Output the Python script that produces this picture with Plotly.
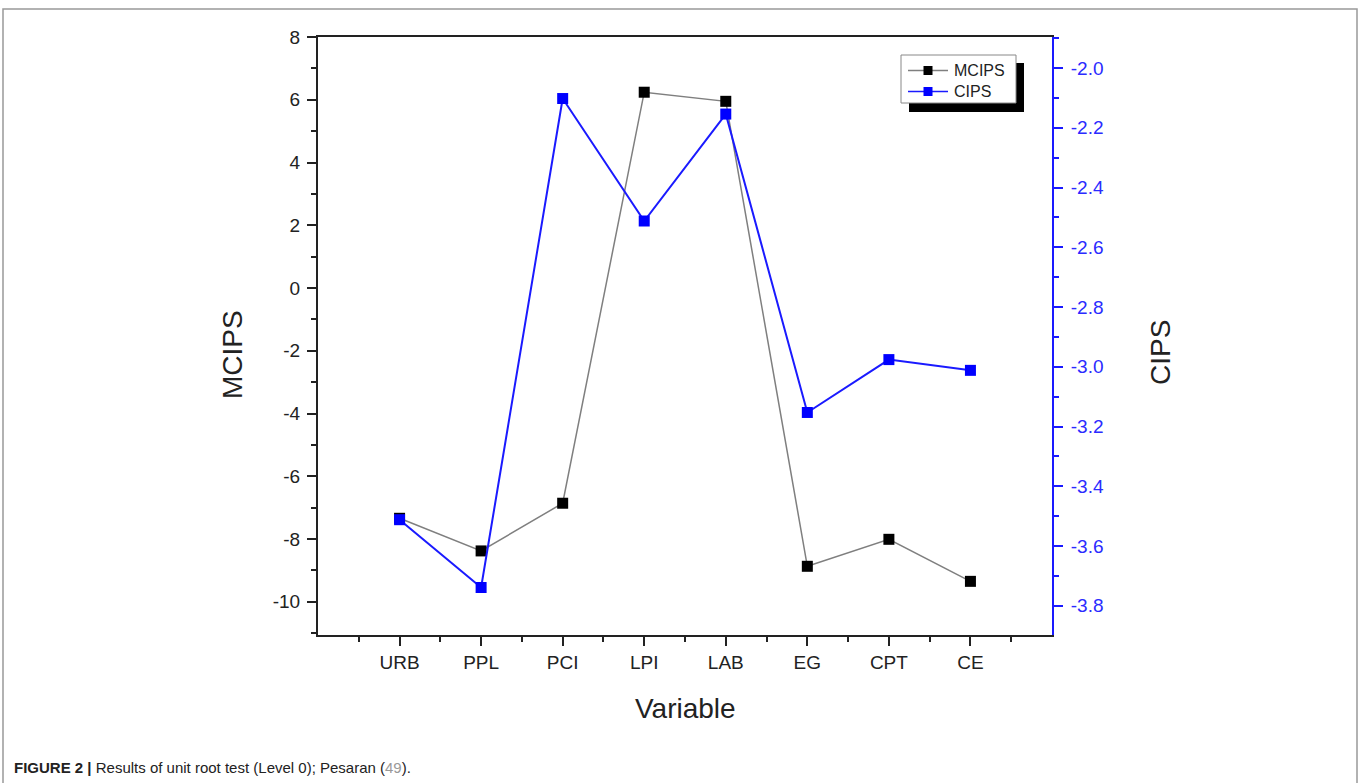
import plotly.graph_objects as go

categories = ["URB", "PPL", "PCI", "LPI", "LAB", "EG", "CPT", "CE"]
mcips = [-7.34, -8.38, -6.86, 6.24, 5.95, -8.87, -8.01, -9.35]
cips = [-3.512, -3.739, -2.102, -2.512, -2.154, -3.153, -2.976, -3.012]
left_ticks = [8, 6, 4, 2, 0, -2, -4, -6, -8, -10]
left_labels = ["8", "6", "4", "2", "0", "-2", "-4", "-6", "-8", "-10"]
right_ticks = [-2.0, -2.2, -2.4, -2.6, -2.8, -3.0, -3.2, -3.4, -3.6, -3.8]
right_labels = ["-2.0", "-2.2", "-2.4", "-2.6", "-2.8", "-3.0", "-3.2", "-3.4", "-3.6", "-3.8"]
series_names = ["MCIPS", "CIPS"]

# plot area geometry (pixels)
W, H = 1360, 783
L, R, T, B = 318, 1052, 37, 635
pw, ph = R - L, B - T


def px(x):
    return (x - L) / pw


def py(y):
    return (B - y) / ph


xs = list(range(len(categories)))
FONT = "Liberation Sans, Arial, sans-serif"
GRAY_LINE = "#7f7f7f"
BLUE_LINE = "#1a1aff"
BLUE_MARK = "#0000ff"

fig = go.Figure()
fig.add_trace(go.Scatter(
    x=xs, y=mcips, name=series_names[0], mode="lines+markers",
    line=dict(color=GRAY_LINE, width=1.5),
    marker=dict(symbol="square", size=11, color="black"),
    yaxis="y",
))
fig.add_trace(go.Scatter(
    x=xs, y=cips, name=series_names[1], mode="lines+markers",
    line=dict(color=BLUE_LINE, width=2),
    marker=dict(symbol="square", size=11, color=BLUE_MARK),
    yaxis="y2",
))

fig.update_layout(
    width=W, height=H,
    margin=dict(l=L, r=W - R, t=T, b=H - B),
    paper_bgcolor="white", plot_bgcolor="white",
    font=dict(family=FONT, color="#222"),
    showlegend=False,
    xaxis=dict(
        range=[-1, 8], tickmode="array", tickvals=xs, ticktext=categories,
        showgrid=False, zeroline=False, showline=True, linecolor="#222", linewidth=2,
        mirror=True, ticks="outside", ticklen=9, tickwidth=2, tickcolor="#222",
        tickfont=dict(size=19, family=FONT),
        minor=dict(tickmode="linear", tick0=-0.5, dtick=1, ticks="outside", ticklen=5,
                   tickwidth=2, tickcolor="#222"),
    ),
    yaxis=dict(
        range=[-11.06, 8], tickmode="array", tickvals=left_ticks, ticktext=left_labels,
        showgrid=False, zeroline=False, showline=True, linecolor="#222", linewidth=2,
        ticks="outside", ticklen=9, tickwidth=2, tickcolor="#222",
        tickfont=dict(size=19, family=FONT), ticklabelstandoff=3,
        minor=dict(tickmode="linear", tick0=1, dtick=2, ticks="outside", ticklen=5,
                   tickwidth=2, tickcolor="#222"),
    ),
    yaxis2=dict(
        overlaying="y", side="right",
        range=[-3.898, -1.896], tickmode="array", tickvals=right_ticks, ticktext=right_labels,
        showgrid=False, zeroline=False, showline=True, linecolor=BLUE_LINE, linewidth=2,
        ticks="outside", ticklen=9, tickwidth=2, tickcolor=BLUE_LINE,
        tickfont=dict(size=19, family=FONT, color="#2b2bff"), ticklabelstandoff=4,
        minor=dict(tickmode="linear", tick0=-2.1, dtick=0.2, ticks="outside", ticklen=5,
                   tickwidth=2, tickcolor=BLUE_LINE),
    ),
)

# axis titles
fig.add_annotation(xref="paper", yref="paper", x=px(232), y=py(355), text="MCIPS",
                   textangle=-90, showarrow=False, xanchor="center", yanchor="middle",
                   font=dict(size=28, family=FONT, color="#222"))
fig.add_annotation(xref="paper", yref="paper", x=px(1160), y=py(353), text="CIPS",
                   textangle=-90, showarrow=False, xanchor="center", yanchor="middle",
                   font=dict(size=28, family=FONT, color="#222"))
fig.add_annotation(xref="paper", yref="paper", x=px(685), y=py(708), text="Variable",
                   showarrow=False, xanchor="center", yanchor="middle",
                   font=dict(size=28, family=FONT, color="#222"))

# legend (drawn manually: shadow, box, samples, labels)
fig.add_shape(type="rect", xref="paper", yref="paper",
              x0=px(909), x1=px(1024), y0=py(112), y1=py(63),
              fillcolor="black", line=dict(width=0), layer="above")
fig.add_shape(type="rect", xref="paper", yref="paper",
              x0=px(901), x1=px(1016), y0=py(103), y1=py(55),
              fillcolor="white", line=dict(color="#888", width=1), layer="above")
legend_rows = [(70.5, GRAY_LINE, "black"), (91.5, BLUE_LINE, BLUE_MARK)]
for name, (ry, lc, mc) in zip(series_names, legend_rows):
    fig.add_shape(type="line", xref="paper", yref="paper",
                  x0=px(908), x1=px(948), y0=py(ry), y1=py(ry),
                  line=dict(color=lc, width=1.5), layer="above")
    fig.add_shape(type="rect", xref="paper", yref="paper",
                  x0=px(923.5), x1=px(932.5), y0=py(ry + 4.5), y1=py(ry - 4.5),
                  fillcolor=mc, line=dict(width=0), layer="above")
    fig.add_annotation(xref="paper", yref="paper", x=px(952), y=py(ry), text=name,
                       showarrow=False, xanchor="left", yanchor="middle",
                       font=dict(size=16, family=FONT, color="#222"))

# figure frame
fig.add_shape(type="rect", xref="paper", yref="paper",
              x0=px(3), x1=px(1357), y0=py(800), y1=py(9),
              fillcolor="rgba(0,0,0,0)", line=dict(color="#999", width=1.5),
              layer="below")

fig.add_annotation(
    xref="paper", yref="paper", x=px(12), y=py(767), xanchor="left", yanchor="middle",
    showarrow=False, align="left",
    text="<b>FIGURE 2 |</b> Results of unit root test (Level 0); Pesaran (<span style='color:#999'>49</span>).",
    font=dict(size=15, family="Liberation Sans Narrow, Arial Narrow, Liberation Sans, sans-serif", color="#222"),
)

fig.write_html("out.html", config={"displayModeBar": False},
               post_script="document.body.style.margin='0';document.body.style.overflow='hidden';")
